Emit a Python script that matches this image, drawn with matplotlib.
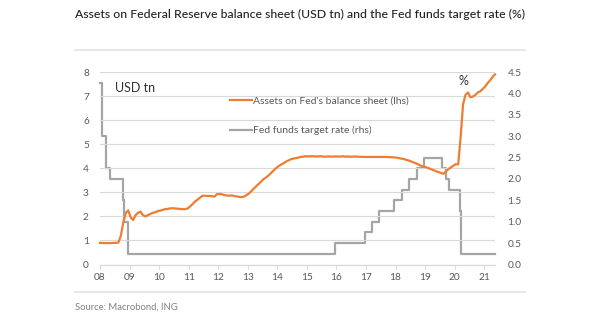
import numpy as np
import pandas as pd
import matplotlib
matplotlib.use("Agg")
from matplotlib import pyplot as plt
from matplotlib.lines import Line2D

plt.rcParams['font.family'] = ['Lato', 'DejaVu Sans']

# Fed balance sheet, USD tn, monthly (mid-month) Jan 2008 - May 2021
assets_2008 = [0.90, 0.89, 0.89, 0.89, 0.89, 0.90, 0.90, 0.91, 1.20, 1.75, 2.15, 2.25]
assets_2009 = [1.95, 1.85, 2.05, 2.15, 2.20, 2.05, 2.00, 2.05, 2.10, 2.15, 2.17, 2.22]
assets_2010 = [2.24, 2.27, 2.30, 2.31, 2.33, 2.34, 2.33, 2.32, 2.31, 2.30, 2.30, 2.32]
assets_2011 = [2.40, 2.50, 2.60, 2.68, 2.76, 2.85, 2.86, 2.85, 2.85, 2.84, 2.82, 2.92]
assets_2012 = [2.93, 2.92, 2.88, 2.87, 2.86, 2.87, 2.85, 2.83, 2.81, 2.80, 2.82, 2.88]
assets_2013 = [2.95, 3.05, 3.15, 3.25, 3.35, 3.45, 3.55, 3.62, 3.70, 3.80, 3.90, 4.00]
assets_2014 = [4.08, 4.15, 4.20, 4.27, 4.32, 4.37, 4.40, 4.42, 4.44, 4.47, 4.48, 4.50]
assets_2015 = [4.49, 4.50, 4.50, 4.49, 4.49, 4.50, 4.49, 4.48, 4.49, 4.49, 4.48, 4.49]
assets_2016 = [4.49, 4.48, 4.50, 4.48, 4.49, 4.48, 4.48, 4.49, 4.48, 4.48, 4.47, 4.47]
assets_2017 = [4.47, 4.47, 4.47, 4.47, 4.47, 4.47, 4.47, 4.47, 4.47, 4.46, 4.46, 4.45]
assets_2018 = [4.44, 4.42, 4.40, 4.38, 4.35, 4.32, 4.28, 4.24, 4.20, 4.15, 4.10, 4.06]
assets_2019 = [4.04, 4.00, 3.96, 3.92, 3.88, 3.84, 3.81, 3.77, 3.86, 3.96, 4.03, 4.10]
assets_2020 = [4.17, 4.16, 5.25, 6.65, 7.05, 7.15, 6.95, 6.98, 7.05, 7.15, 7.20, 7.30]
assets_2021 = [7.40, 7.55, 7.65, 7.80, 7.90]

assets = (assets_2008 + assets_2009 + assets_2010 + assets_2011 + assets_2012
          + assets_2013 + assets_2014 + assets_2015 + assets_2016 + assets_2017
          + assets_2018 + assets_2019 + assets_2020 + assets_2021)
asset_dates = pd.date_range("2008-01-01", periods=len(assets), freq="MS") + pd.Timedelta(days=14)
asset_dates = asset_dates.insert(0, pd.Timestamp("2008-01-01"))
assets = [assets[0]] + assets

# Fed funds target rate (upper bound), %, change dates
rate_dates = ["2008-01-01", "2008-01-22", "2008-01-30", "2008-03-18", "2008-04-30",
              "2008-10-08", "2008-10-29", "2008-12-16", "2015-12-16", "2016-12-14",
              "2017-03-15", "2017-06-14", "2017-12-13", "2018-03-21", "2018-06-13",
              "2018-09-26", "2018-12-19", "2019-07-31", "2019-09-18", "2019-10-30",
              "2020-03-03", "2020-03-15", "2021-05-15"]
rate = [4.25, 3.5, 3.0, 2.25, 2.0, 1.5, 1.0, 0.25, 0.5, 0.75, 1.0, 1.25, 1.5, 1.75,
        2.0, 2.25, 2.5, 2.25, 2.0, 1.75, 1.25, 0.25, 0.25]
rate_dates = pd.to_datetime(rate_dates)

years = list(range(2008, 2022))
year_labels = ["%02d" % (y % 100) for y in years]

orange = "#ED7D31"
grey = "#A5A5A5"
tick_col = "#595959"

fig = plt.figure(figsize=(6, 3.24), dpi=100)
ax = fig.add_axes([100/600, 1 - 264.5/324, 395/600, 192.5/324])
ax2 = ax.twinx()

ax.plot(asset_dates, assets, color=orange, lw=1.6, zorder=3, clip_on=False)
ax2.plot(rate_dates, rate, color=grey, lw=1.6, drawstyle="steps-post", zorder=2, clip_on=False)
ax.set_zorder(ax2.get_zorder() + 1)
ax.patch.set_visible(False)

ax.set_ylim(0, 8)
ax2.set_ylim(0, 4.5)
ax.set_yticks(range(0, 9))
ax2.set_yticks(np.arange(0, 4.51, 0.5))
ax2.set_yticklabels(["%.1f" % v for v in np.arange(0, 4.51, 0.5)])
ax.set_xlim(pd.Timestamp("2008-01-01"), pd.Timestamp("2021-05-15"))
ax.set_xticks([pd.Timestamp("%d-01-01" % y) for y in years])
ax.set_xticklabels(year_labels)

ax.grid(axis="y", color="#D9D9D9", lw=0.8)
for a in (ax, ax2):
    for s in ("left", "right", "top"):
        a.spines[s].set_visible(False)
    a.spines["bottom"].set_color("#D9D9D9")
ax.tick_params(axis="y", length=0, labelsize=7.3, labelcolor=tick_col, pad=8)
ax2.tick_params(axis="y", length=0, labelsize=7.3, labelcolor=tick_col, pad=9)
ax.tick_params(axis="x", length=3, color="#D9D9D9", labelsize=7.3, labelcolor=tick_col, pad=3)

# legend
handles = [Line2D([], [], color=orange, lw=1.6), Line2D([], [], color=grey, lw=1.6)]
labels = ["Assets on Fed's balance sheet (lhs)", "Fed funds target rate (rhs)"]
leg = ax.legend(handles, labels, loc="upper left", bbox_to_anchor=(0.329, 0.875),
                frameon=False, fontsize=7.5, labelspacing=1.95, handlelength=2.1,
                handletextpad=0.15, borderpad=0, borderaxespad=0)
for t in leg.get_texts():
    t.set_color(tick_col)

fig.text(115/600, 1 - 88/324, "USD tn", fontsize=9, color="#333333", va="center")
fig.text(463/600, 1 - 81/324, "%", fontsize=9, color="#333333", va="center", ha="center")

# title, rules, source
fig.text(75/600, 1 - 14/324, "Assets on Federal Reserve balance sheet (USD tn) and the Fed funds target rate (%)",
         fontsize=8.8, color="#222222", va="center", fontweight="medium")
fig.add_artist(Line2D([75/600, 525/600], [1 - 50/324, 1 - 50/324], color="#E3E3E3", lw=1.2))
fig.add_artist(Line2D([75/600, 525/600], [1 - 292/324, 1 - 292/324], color="#E3E3E3", lw=1.2))
fig.text(75/600, 1 - 307/324, "Source: Macrobond, ING", fontsize=6.8, color="#808080", va="center")

plt.savefig("out.png", dpi=100)
